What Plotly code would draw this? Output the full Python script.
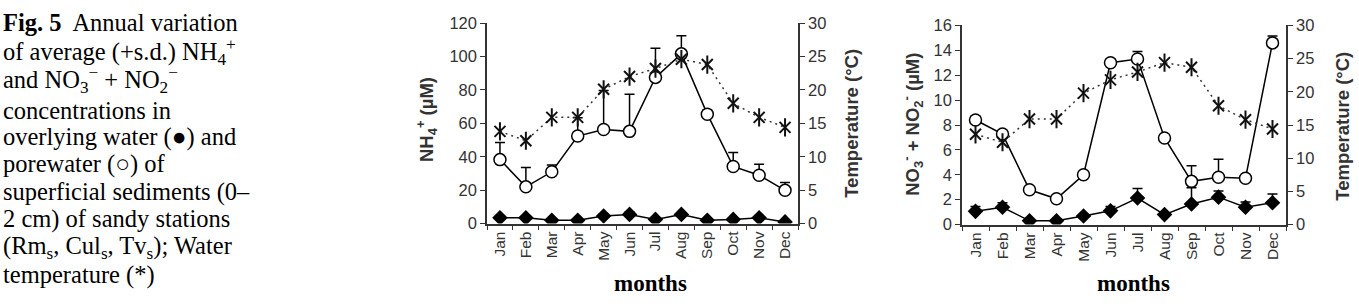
import plotly.graph_objects as go

W, H = 1359, 306

months = ['Jan', 'Feb', 'Mar', 'Apr', 'May', 'Jun', 'Jul', 'Aug', 'Sep', 'Oct', 'Nov', 'Dec']

# Water temperature (°C)
temp_left = [13.8, 12.4, 15.9, 15.9, 20.1, 22.0, 23.2, 24.6, 23.8, 18.0, 15.9, 14.4]
temp_right = [13.6, 12.4, 15.9, 15.9, 19.8, 21.8, 23.0, 24.4, 23.7, 17.9, 15.8, 14.4]

# NH4+ (µM)
nh4_pore = [38.3, 22.0, 31.0, 52.4, 56.3, 55.2, 87.5, 101.6, 65.5, 34.2, 28.9, 19.9]
nh4_pore_sd = [10.3, 11.6, 4.0, 11.0, 23.3, 22.2, 17.5, 10.9, 2.5, 8.4, 6.6, 4.7]
nh4_over = [3.5, 3.5, 2.0, 2.0, 4.5, 5.5, 2.5, 5.5, 2.0, 2.5, 3.5, 1.0]
nh4_over_sd = [0.8, 0.8, 0.5, 0.5, 1.0, 1.5, 0.5, 1.0, 0.5, 0.5, 0.8, 0.5]

# NO3- + NO2- (µM)
no_pore = [8.4, 7.27, 2.79, 2.07, 4.0, 13.0, 13.3, 6.96, 3.47, 3.8, 3.72, 14.6]
no_pore_sd = [0.3, 0.25, 0.15, 0.05, 0.12, 0.3, 0.6, 0.1, 1.26, 1.44, 0.13, 0.56]
no_over = [1.06, 1.39, 0.3, 0.3, 0.68, 1.1, 2.13, 0.8, 1.65, 2.2, 1.39, 1.75]
no_over_sd = [0.38, 0.36, 0.1, 0.05, 0.05, 0.34, 0.77, 0.05, 1.31, 0.5, 0.43, 0.7]

caption = [
    "<b>Fig. 5</b>  Annual variation",
    "of average (+s.d.) NH<sub>4</sub><sup>+</sup>",
    "and NO<sub>3</sub><sup>−</sup> + NO<sub>2</sub><sup>−</sup>",
    "concentrations in",
    "overlying water (●) and",
    "porewater (○) of",
    "superficial sediments (0–",
    "2 cm) of sandy stations",
    "(Rm<sub>s</sub>, Cul<sub>s</sub>, Tv<sub>s</sub>); Water",
    "temperature (*)",
]

AX = '#333333'
STAR = '#111111'
SERIF = 'Liberation Serif, Times New Roman, serif'
SANS = 'Liberation Sans, Arial, sans-serif'

def px(x):
    return x / W

def py(y):
    return 1 - y / H

fig = go.Figure()

def err(sd, w=5):
    return dict(type='data', array=sd, arrayminus=[0] * len(sd), symmetric=False,
                color='black', thickness=1.5, width=w, visible=True)

def add_panel(xa, ya, ya2, pore, pore_sd, over, over_sd, temp):
    fig.add_trace(go.Scatter(x=months, y=temp, xaxis=xa, yaxis=ya2, mode='lines+markers',
                             line=dict(color='#333333', width=1.5, dash='2px,4px'),
                             marker=dict(symbol='x-thin-open', size=11, color=STAR,
                                         line=dict(color=STAR, width=2)),
                             showlegend=False))
    fig.add_trace(go.Scatter(x=months, y=temp, xaxis=xa, yaxis=ya2, mode='markers',
                             marker=dict(symbol='line-ns-open', size=13, color=STAR,
                                         line=dict(color=STAR, width=2)),
                             showlegend=False))
    fig.add_trace(go.Scatter(x=months, y=pore, xaxis=xa, yaxis=ya, mode='lines+markers',
                             line=dict(color='black', width=1.5),
                             marker=dict(symbol='circle', size=12, color='white',
                                         line=dict(color='black', width=1.5)),
                             error_y=err(pore_sd), showlegend=False))
    fig.add_trace(go.Scatter(x=months, y=over, xaxis=xa, yaxis=ya, mode='lines+markers',
                             line=dict(color='black', width=1.5),
                             marker=dict(symbol='diamond', size=12, color='black'),
                             error_y=err(over_sd), showlegend=False))

add_panel('x', 'y', 'y2', nh4_pore, nh4_pore_sd, nh4_over, nh4_over_sd, temp_left)
add_panel('x2', 'y3', 'y4', no_pore, no_pore_sd, no_over, no_over_sd, temp_right)

tickfont = dict(family=SANS, size=16.5, color=AX)
xcommon = dict(type='category', range=[-0.5, 11.5], tickson='boundaries', ticks='outside',
               ticklen=5, tickwidth=1.2, tickcolor=AX, showline=True, linecolor=AX,
               linewidth=1.5, tickangle=-90, tickfont=dict(family=SANS, size=15.5, color=AX),
               showgrid=False, zeroline=False, fixedrange=True)
ycommon = dict(ticks='outside', ticklen=5, tickwidth=1.2, tickcolor=AX, showline=True,
               linecolor=AX, linewidth=1.5, tickfont=tickfont, showgrid=False,
               zeroline=False, fixedrange=True)

L = (487, 798, 15, 228)
R = (962, 1286, 17.5, 229)

fig.update_layout(
    width=W, height=H,
    margin=dict(l=0, r=0, t=0, b=0),
    paper_bgcolor='white', plot_bgcolor='white',
    xaxis=dict(domain=[px(L[0]), px(L[1])], anchor='y', **xcommon),
    yaxis=dict(domain=[py(L[3]), py(L[2])], anchor='x', range=[0, 120], dtick=20, **ycommon),
    yaxis2=dict(overlaying='y', side='right', anchor='x', range=[0, 30], dtick=5, **ycommon),
    xaxis2=dict(domain=[px(R[0]), px(R[1])], anchor='y3', **xcommon),
    yaxis3=dict(domain=[py(R[3]), py(R[2])], anchor='x2', range=[0, 16], dtick=2, **ycommon),
    yaxis4=dict(overlaying='y3', side='right', anchor='x2', range=[0, 30], dtick=5, **ycommon),
)

line_y = [14, 46, 75, 108, 136, 165, 194, 223, 253, 283]
ann = []
for yy, line in zip(line_y, caption):
    ann.append(dict(text=line, xref='paper', yref='paper', x=px(1), y=py(yy),
                    xanchor='left', yanchor='middle', showarrow=False,
                    font=dict(family=SERIF, size=24.5, color='black')))

title_font = dict(family=SANS, size=18.5, color=AX)
ann += [
    dict(text='<b>NH<sub>4</sub><sup>+</sup> (µM)</b>', x=px(426), y=py(118), textangle=-90),
    dict(text='<b>Temperature (°C)</b>', x=px(852), y=py(122), textangle=-90),
    dict(text='<b>NO<sub>3</sub><sup>-</sup> + NO<sub>2</sub><sup>-</sup> (µM)</b>', x=px(913), y=py(123), textangle=-90),
    dict(text='<b>Temperature (°C)</b>', x=px(1343), y=py(125), textangle=-90),
]
for a in ann[len(caption):]:
    a.update(xref='paper', yref='paper', xanchor='center', yanchor='middle',
             showarrow=False, font=title_font)

for xc in (650, 1133):
    ann.append(dict(text='<b>months</b>', x=px(xc), y=py(292), xref='paper', yref='paper',
                    xanchor='center', yanchor='middle', showarrow=False,
                    font=dict(family=SERIF, size=23, color='black')))

fig.update_layout(annotations=ann)
fig.write_html('out.html')
